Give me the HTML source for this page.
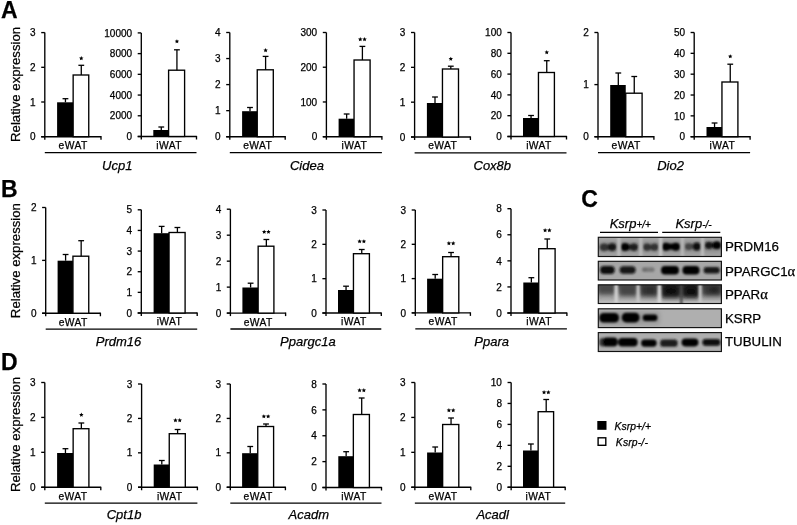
<!DOCTYPE html>
<html><head><meta charset="utf-8"><style>
html,body{margin:0;padding:0;background:#fff;}
body{width:797px;height:525px;overflow:hidden;}
svg{display:block;will-change:transform;filter:blur(0.3px);font-family:"Liberation Sans",sans-serif;fill:#000;}
</style></head><body>
<svg width="797" height="525" viewBox="0 0 797 525">
<g stroke="#000" fill="none" stroke-linecap="butt">
<g fill="#000">
<line x1="44.8" y1="32.6" x2="44.8" y2="139.7" stroke-width="1.35"/>
<line x1="41.2" y1="136.7" x2="44.8" y2="136.7" stroke-width="1.35"/>
<text stroke="#000" stroke-width="0.25" x="35.6" y="140.35" font-size="10" text-anchor="end">0</text>
<line x1="41.2" y1="102" x2="44.8" y2="102" stroke-width="1.35"/>
<text stroke="#000" stroke-width="0.25" x="35.6" y="105.65" font-size="10" text-anchor="end">1</text>
<line x1="41.2" y1="67.3" x2="44.8" y2="67.3" stroke-width="1.35"/>
<text stroke="#000" stroke-width="0.25" x="35.6" y="70.95" font-size="10" text-anchor="end">2</text>
<line x1="41.2" y1="32.6" x2="44.8" y2="32.6" stroke-width="1.35"/>
<text stroke="#000" stroke-width="0.25" x="35.6" y="36.25" font-size="10" text-anchor="end">3</text>
<line x1="41.2" y1="136.7" x2="101" y2="136.7" stroke-width="1.35"/>
<line x1="101" y1="136.1" x2="101" y2="139.7" stroke-width="1.35"/>
<rect x="57.1" y="102.3" width="16.05" height="34.4" fill="#000" stroke="none"/>
<rect x="73.15" y="75" width="15.6" height="61.7" fill="#fff" stroke-width="1.35"/>
<line x1="65.45" y1="102.3" x2="65.45" y2="98.7" stroke-width="1.3"/>
<line x1="62.55" y1="98.7" x2="68.35" y2="98.7" stroke-width="1.3"/>
<line x1="81.28" y1="75" x2="81.28" y2="65.3" stroke-width="1.3"/>
<line x1="78.38" y1="65.3" x2="84.18" y2="65.3" stroke-width="1.3"/>
<polygon points="81.28,56 81.92,57.41 83.46,57.59 82.32,58.64 82.63,60.16 81.28,59.4 79.92,60.16 80.23,58.64 79.09,57.59 80.63,57.41" stroke="none"/>
<text stroke="#000" stroke-width="0.25" x="73.1" y="149.1" font-size="10.3" text-anchor="middle" letter-spacing="0.4">eWAT</text>
<line x1="141.3" y1="32.9" x2="141.3" y2="139.5" stroke-width="1.35"/>
<line x1="137.7" y1="136.5" x2="141.3" y2="136.5" stroke-width="1.35"/>
<text stroke="#000" stroke-width="0.25" x="132.1" y="140.15" font-size="10" text-anchor="end">0</text>
<line x1="137.7" y1="115.78" x2="141.3" y2="115.78" stroke-width="1.35"/>
<text stroke="#000" stroke-width="0.25" x="132.1" y="119.43" font-size="10" text-anchor="end">2000</text>
<line x1="137.7" y1="95.06" x2="141.3" y2="95.06" stroke-width="1.35"/>
<text stroke="#000" stroke-width="0.25" x="132.1" y="98.71" font-size="10" text-anchor="end">4000</text>
<line x1="137.7" y1="74.34" x2="141.3" y2="74.34" stroke-width="1.35"/>
<text stroke="#000" stroke-width="0.25" x="132.1" y="77.99" font-size="10" text-anchor="end">6000</text>
<line x1="137.7" y1="53.62" x2="141.3" y2="53.62" stroke-width="1.35"/>
<text stroke="#000" stroke-width="0.25" x="132.1" y="57.27" font-size="10" text-anchor="end">8000</text>
<line x1="137.7" y1="32.9" x2="141.3" y2="32.9" stroke-width="1.35"/>
<text stroke="#000" stroke-width="0.25" x="132.1" y="36.55" font-size="10" text-anchor="end">10000</text>
<line x1="137.7" y1="136.5" x2="196.5" y2="136.5" stroke-width="1.35"/>
<line x1="196.5" y1="135.9" x2="196.5" y2="139.5" stroke-width="1.35"/>
<rect x="153.3" y="130" width="15.3" height="6.5" fill="#000" stroke="none"/>
<rect x="168.6" y="70.2" width="16" height="66.3" fill="#fff" stroke-width="1.35"/>
<line x1="161.28" y1="130" x2="161.28" y2="127" stroke-width="1.3"/>
<line x1="158.38" y1="127" x2="164.18" y2="127" stroke-width="1.3"/>
<line x1="176.93" y1="70.2" x2="176.93" y2="49.8" stroke-width="1.3"/>
<line x1="174.03" y1="49.8" x2="179.83" y2="49.8" stroke-width="1.3"/>
<polygon points="176.93,39.2 177.57,40.61 179.11,40.79 177.97,41.84 178.28,43.36 176.93,42.6 175.57,43.36 175.88,41.84 174.74,40.79 176.28,40.61" stroke="none"/>
<text stroke="#000" stroke-width="0.25" x="169.1" y="148.9" font-size="10.3" text-anchor="middle" letter-spacing="0.4">iWAT</text>
<line x1="229.8" y1="32.5" x2="229.8" y2="139.7" stroke-width="1.35"/>
<line x1="226.2" y1="136.7" x2="229.8" y2="136.7" stroke-width="1.35"/>
<text stroke="#000" stroke-width="0.25" x="220.6" y="140.35" font-size="10" text-anchor="end">0</text>
<line x1="226.2" y1="110.65" x2="229.8" y2="110.65" stroke-width="1.35"/>
<text stroke="#000" stroke-width="0.25" x="220.6" y="114.3" font-size="10" text-anchor="end">1</text>
<line x1="226.2" y1="84.6" x2="229.8" y2="84.6" stroke-width="1.35"/>
<text stroke="#000" stroke-width="0.25" x="220.6" y="88.25" font-size="10" text-anchor="end">2</text>
<line x1="226.2" y1="58.55" x2="229.8" y2="58.55" stroke-width="1.35"/>
<text stroke="#000" stroke-width="0.25" x="220.6" y="62.2" font-size="10" text-anchor="end">3</text>
<line x1="226.2" y1="32.5" x2="229.8" y2="32.5" stroke-width="1.35"/>
<text stroke="#000" stroke-width="0.25" x="220.6" y="36.15" font-size="10" text-anchor="end">4</text>
<line x1="226.2" y1="136.7" x2="285.2" y2="136.7" stroke-width="1.35"/>
<line x1="285.2" y1="136.1" x2="285.2" y2="139.7" stroke-width="1.35"/>
<rect x="242.1" y="111.2" width="15.15" height="25.5" fill="#000" stroke="none"/>
<rect x="257.25" y="69.8" width="16.05" height="66.9" fill="#fff" stroke-width="1.35"/>
<line x1="250" y1="111.2" x2="250" y2="107.5" stroke-width="1.3"/>
<line x1="247.1" y1="107.5" x2="252.9" y2="107.5" stroke-width="1.3"/>
<line x1="265.6" y1="69.8" x2="265.6" y2="56.4" stroke-width="1.3"/>
<line x1="262.7" y1="56.4" x2="268.5" y2="56.4" stroke-width="1.3"/>
<polygon points="265.6,48 266.25,49.41 267.79,49.59 266.65,50.64 266.95,52.16 265.6,51.4 264.25,52.16 264.55,50.64 263.41,49.59 264.95,49.41" stroke="none"/>
<text stroke="#000" stroke-width="0.25" x="257.7" y="149.1" font-size="10.3" text-anchor="middle" letter-spacing="0.4">eWAT</text>
<line x1="326.4" y1="32.5" x2="326.4" y2="139.7" stroke-width="1.35"/>
<line x1="322.8" y1="136.7" x2="326.4" y2="136.7" stroke-width="1.35"/>
<text stroke="#000" stroke-width="0.25" x="317.2" y="140.35" font-size="10" text-anchor="end">0</text>
<line x1="322.8" y1="101.97" x2="326.4" y2="101.97" stroke-width="1.35"/>
<text stroke="#000" stroke-width="0.25" x="317.2" y="105.62" font-size="10" text-anchor="end">100</text>
<line x1="322.8" y1="67.23" x2="326.4" y2="67.23" stroke-width="1.35"/>
<text stroke="#000" stroke-width="0.25" x="317.2" y="70.88" font-size="10" text-anchor="end">200</text>
<line x1="322.8" y1="32.5" x2="326.4" y2="32.5" stroke-width="1.35"/>
<text stroke="#000" stroke-width="0.25" x="317.2" y="36.15" font-size="10" text-anchor="end">300</text>
<line x1="322.8" y1="136.7" x2="381.9" y2="136.7" stroke-width="1.35"/>
<line x1="381.9" y1="136.1" x2="381.9" y2="139.7" stroke-width="1.35"/>
<rect x="338.6" y="118.7" width="15.45" height="18" fill="#000" stroke="none"/>
<rect x="354.05" y="60" width="16.05" height="76.7" fill="#fff" stroke-width="1.35"/>
<line x1="346.65" y1="118.7" x2="346.65" y2="114" stroke-width="1.3"/>
<line x1="343.75" y1="114" x2="349.55" y2="114" stroke-width="1.3"/>
<line x1="362.4" y1="60" x2="362.4" y2="46.4" stroke-width="1.3"/>
<line x1="359.5" y1="46.4" x2="365.3" y2="46.4" stroke-width="1.3"/>
<polygon points="360.25,37 360.9,38.41 362.44,38.59 361.3,39.64 361.6,41.16 360.25,40.4 358.9,41.16 359.2,39.64 358.06,38.59 359.6,38.41" stroke="none"/>
<polygon points="364.55,37 365.2,38.41 366.74,38.59 365.6,39.64 365.9,41.16 364.55,40.4 363.2,41.16 363.5,39.64 362.36,38.59 363.9,38.41" stroke="none"/>
<text stroke="#000" stroke-width="0.25" x="354.35" y="149.1" font-size="10.3" text-anchor="middle" letter-spacing="0.4">iWAT</text>
<line x1="414.6" y1="32.5" x2="414.6" y2="140" stroke-width="1.35"/>
<line x1="411" y1="137" x2="414.6" y2="137" stroke-width="1.35"/>
<text stroke="#000" stroke-width="0.25" x="405.4" y="140.65" font-size="10" text-anchor="end">0</text>
<line x1="411" y1="102.17" x2="414.6" y2="102.17" stroke-width="1.35"/>
<text stroke="#000" stroke-width="0.25" x="405.4" y="105.82" font-size="10" text-anchor="end">1</text>
<line x1="411" y1="67.33" x2="414.6" y2="67.33" stroke-width="1.35"/>
<text stroke="#000" stroke-width="0.25" x="405.4" y="70.98" font-size="10" text-anchor="end">2</text>
<line x1="411" y1="32.5" x2="414.6" y2="32.5" stroke-width="1.35"/>
<text stroke="#000" stroke-width="0.25" x="405.4" y="36.15" font-size="10" text-anchor="end">3</text>
<line x1="411" y1="137" x2="470.4" y2="137" stroke-width="1.35"/>
<line x1="470.4" y1="136.4" x2="470.4" y2="140" stroke-width="1.35"/>
<rect x="426.9" y="103" width="15.55" height="34" fill="#000" stroke="none"/>
<rect x="442.45" y="69" width="16.05" height="68" fill="#fff" stroke-width="1.35"/>
<line x1="435" y1="103" x2="435" y2="97" stroke-width="1.3"/>
<line x1="432.1" y1="97" x2="437.9" y2="97" stroke-width="1.3"/>
<line x1="450.8" y1="69" x2="450.8" y2="66.2" stroke-width="1.3"/>
<line x1="447.9" y1="66.2" x2="453.7" y2="66.2" stroke-width="1.3"/>
<polygon points="450.8,56.7 451.45,58.11 452.99,58.29 451.85,59.34 452.15,60.86 450.8,60.1 449.45,60.86 449.75,59.34 448.61,58.29 450.15,58.11" stroke="none"/>
<text stroke="#000" stroke-width="0.25" x="442.7" y="149.4" font-size="10.3" text-anchor="middle" letter-spacing="0.4">eWAT</text>
<line x1="511" y1="32.5" x2="511" y2="139.5" stroke-width="1.35"/>
<line x1="507.4" y1="136.5" x2="511" y2="136.5" stroke-width="1.35"/>
<text stroke="#000" stroke-width="0.25" x="501.8" y="140.15" font-size="10" text-anchor="end">0</text>
<line x1="507.4" y1="115.7" x2="511" y2="115.7" stroke-width="1.35"/>
<text stroke="#000" stroke-width="0.25" x="501.8" y="119.35" font-size="10" text-anchor="end">20</text>
<line x1="507.4" y1="94.9" x2="511" y2="94.9" stroke-width="1.35"/>
<text stroke="#000" stroke-width="0.25" x="501.8" y="98.55" font-size="10" text-anchor="end">40</text>
<line x1="507.4" y1="74.1" x2="511" y2="74.1" stroke-width="1.35"/>
<text stroke="#000" stroke-width="0.25" x="501.8" y="77.75" font-size="10" text-anchor="end">60</text>
<line x1="507.4" y1="53.3" x2="511" y2="53.3" stroke-width="1.35"/>
<text stroke="#000" stroke-width="0.25" x="501.8" y="56.95" font-size="10" text-anchor="end">80</text>
<line x1="507.4" y1="32.5" x2="511" y2="32.5" stroke-width="1.35"/>
<text stroke="#000" stroke-width="0.25" x="501.8" y="36.15" font-size="10" text-anchor="end">100</text>
<line x1="507.4" y1="136.5" x2="566.5" y2="136.5" stroke-width="1.35"/>
<line x1="566.5" y1="135.9" x2="566.5" y2="139.5" stroke-width="1.35"/>
<rect x="523" y="118" width="15.45" height="18.5" fill="#000" stroke="none"/>
<rect x="538.45" y="72.5" width="15.95" height="64" fill="#fff" stroke-width="1.35"/>
<line x1="531.05" y1="118" x2="531.05" y2="115.5" stroke-width="1.3"/>
<line x1="528.15" y1="115.5" x2="533.95" y2="115.5" stroke-width="1.3"/>
<line x1="546.75" y1="72.5" x2="546.75" y2="60.7" stroke-width="1.3"/>
<line x1="543.85" y1="60.7" x2="549.65" y2="60.7" stroke-width="1.3"/>
<polygon points="546.75,50 547.4,51.41 548.94,51.59 547.8,52.64 548.1,54.16 546.75,53.4 545.4,54.16 545.7,52.64 544.56,51.59 546.1,51.41" stroke="none"/>
<text stroke="#000" stroke-width="0.25" x="538.95" y="148.9" font-size="10.3" text-anchor="middle" letter-spacing="0.4">iWAT</text>
<line x1="598" y1="32.5" x2="598" y2="139.7" stroke-width="1.35"/>
<line x1="594.4" y1="136.7" x2="598" y2="136.7" stroke-width="1.35"/>
<text stroke="#000" stroke-width="0.25" x="588.8" y="140.35" font-size="10" text-anchor="end">0</text>
<line x1="594.4" y1="84.6" x2="598" y2="84.6" stroke-width="1.35"/>
<text stroke="#000" stroke-width="0.25" x="588.8" y="88.25" font-size="10" text-anchor="end">1</text>
<line x1="594.4" y1="32.5" x2="598" y2="32.5" stroke-width="1.35"/>
<text stroke="#000" stroke-width="0.25" x="588.8" y="36.15" font-size="10" text-anchor="end">2</text>
<line x1="594.4" y1="136.7" x2="653.9" y2="136.7" stroke-width="1.35"/>
<line x1="653.9" y1="136.1" x2="653.9" y2="139.7" stroke-width="1.35"/>
<rect x="610.2" y="85" width="15.55" height="51.7" fill="#000" stroke="none"/>
<rect x="625.75" y="93.2" width="16.35" height="43.5" fill="#fff" stroke-width="1.35"/>
<line x1="618.3" y1="85" x2="618.3" y2="73" stroke-width="1.3"/>
<line x1="615.4" y1="73" x2="621.2" y2="73" stroke-width="1.3"/>
<line x1="634.25" y1="93.2" x2="634.25" y2="76.5" stroke-width="1.3"/>
<line x1="631.35" y1="76.5" x2="637.15" y2="76.5" stroke-width="1.3"/>
<text stroke="#000" stroke-width="0.25" x="626.15" y="149.1" font-size="10.3" text-anchor="middle" letter-spacing="0.4">eWAT</text>
<line x1="694.2" y1="32.5" x2="694.2" y2="139.7" stroke-width="1.35"/>
<line x1="690.6" y1="136.7" x2="694.2" y2="136.7" stroke-width="1.35"/>
<text stroke="#000" stroke-width="0.25" x="685" y="140.35" font-size="10" text-anchor="end">0</text>
<line x1="690.6" y1="115.86" x2="694.2" y2="115.86" stroke-width="1.35"/>
<text stroke="#000" stroke-width="0.25" x="685" y="119.51" font-size="10" text-anchor="end">10</text>
<line x1="690.6" y1="95.02" x2="694.2" y2="95.02" stroke-width="1.35"/>
<text stroke="#000" stroke-width="0.25" x="685" y="98.67" font-size="10" text-anchor="end">20</text>
<line x1="690.6" y1="74.18" x2="694.2" y2="74.18" stroke-width="1.35"/>
<text stroke="#000" stroke-width="0.25" x="685" y="77.83" font-size="10" text-anchor="end">30</text>
<line x1="690.6" y1="53.34" x2="694.2" y2="53.34" stroke-width="1.35"/>
<text stroke="#000" stroke-width="0.25" x="685" y="56.99" font-size="10" text-anchor="end">40</text>
<line x1="690.6" y1="32.5" x2="694.2" y2="32.5" stroke-width="1.35"/>
<text stroke="#000" stroke-width="0.25" x="685" y="36.15" font-size="10" text-anchor="end">50</text>
<line x1="690.6" y1="136.7" x2="750.1" y2="136.7" stroke-width="1.35"/>
<line x1="750.1" y1="136.1" x2="750.1" y2="139.7" stroke-width="1.35"/>
<rect x="706.5" y="127" width="15.45" height="9.7" fill="#000" stroke="none"/>
<rect x="721.95" y="82" width="15.95" height="54.7" fill="#fff" stroke-width="1.35"/>
<line x1="714.55" y1="127" x2="714.55" y2="123" stroke-width="1.3"/>
<line x1="711.65" y1="123" x2="717.45" y2="123" stroke-width="1.3"/>
<line x1="730.25" y1="82" x2="730.25" y2="64.2" stroke-width="1.3"/>
<line x1="727.35" y1="64.2" x2="733.15" y2="64.2" stroke-width="1.3"/>
<polygon points="730.25,54.2 730.9,55.61 732.44,55.79 731.3,56.84 731.6,58.36 730.25,57.6 728.9,58.36 729.2,56.84 728.06,55.79 729.6,55.61" stroke="none"/>
<text stroke="#000" stroke-width="0.25" x="722.35" y="149.1" font-size="10.3" text-anchor="middle" letter-spacing="0.4">iWAT</text>
<line x1="45.7" y1="207.5" x2="45.7" y2="316.25" stroke-width="1.35"/>
<line x1="42.1" y1="313.25" x2="45.7" y2="313.25" stroke-width="1.35"/>
<text stroke="#000" stroke-width="0.25" x="36.5" y="316.9" font-size="10" text-anchor="end">0</text>
<line x1="42.1" y1="260.38" x2="45.7" y2="260.38" stroke-width="1.35"/>
<text stroke="#000" stroke-width="0.25" x="36.5" y="264.02" font-size="10" text-anchor="end">1</text>
<line x1="42.1" y1="207.5" x2="45.7" y2="207.5" stroke-width="1.35"/>
<text stroke="#000" stroke-width="0.25" x="36.5" y="211.15" font-size="10" text-anchor="end">2</text>
<line x1="42.1" y1="313.25" x2="100.4" y2="313.25" stroke-width="1.35"/>
<line x1="100.4" y1="312.65" x2="100.4" y2="316.25" stroke-width="1.35"/>
<rect x="57.6" y="260.7" width="15.35" height="52.55" fill="#000" stroke="none"/>
<rect x="72.95" y="256.2" width="15.8" height="57.05" fill="#fff" stroke-width="1.35"/>
<line x1="65.6" y1="260.7" x2="65.6" y2="254.5" stroke-width="1.3"/>
<line x1="62.7" y1="254.5" x2="68.5" y2="254.5" stroke-width="1.3"/>
<line x1="81.17" y1="256.2" x2="81.17" y2="240.7" stroke-width="1.3"/>
<line x1="78.27" y1="240.7" x2="84.08" y2="240.7" stroke-width="1.3"/>
<text stroke="#000" stroke-width="0.25" x="73.25" y="325.65" font-size="10.3" text-anchor="middle" letter-spacing="0.4">eWAT</text>
<line x1="141.3" y1="209.8" x2="141.3" y2="316" stroke-width="1.35"/>
<line x1="137.7" y1="313" x2="141.3" y2="313" stroke-width="1.35"/>
<text stroke="#000" stroke-width="0.25" x="132.1" y="316.65" font-size="10" text-anchor="end">0</text>
<line x1="137.7" y1="292.36" x2="141.3" y2="292.36" stroke-width="1.35"/>
<text stroke="#000" stroke-width="0.25" x="132.1" y="296.01" font-size="10" text-anchor="end">1</text>
<line x1="137.7" y1="271.72" x2="141.3" y2="271.72" stroke-width="1.35"/>
<text stroke="#000" stroke-width="0.25" x="132.1" y="275.37" font-size="10" text-anchor="end">2</text>
<line x1="137.7" y1="251.08" x2="141.3" y2="251.08" stroke-width="1.35"/>
<text stroke="#000" stroke-width="0.25" x="132.1" y="254.73" font-size="10" text-anchor="end">3</text>
<line x1="137.7" y1="230.44" x2="141.3" y2="230.44" stroke-width="1.35"/>
<text stroke="#000" stroke-width="0.25" x="132.1" y="234.09" font-size="10" text-anchor="end">4</text>
<line x1="137.7" y1="209.8" x2="141.3" y2="209.8" stroke-width="1.35"/>
<text stroke="#000" stroke-width="0.25" x="132.1" y="213.45" font-size="10" text-anchor="end">5</text>
<line x1="137.7" y1="313" x2="197.2" y2="313" stroke-width="1.35"/>
<line x1="197.2" y1="312.4" x2="197.2" y2="316" stroke-width="1.35"/>
<rect x="153.6" y="233.2" width="15.45" height="79.8" fill="#000" stroke="none"/>
<rect x="169.05" y="232.5" width="16.05" height="80.5" fill="#fff" stroke-width="1.35"/>
<line x1="161.65" y1="233.2" x2="161.65" y2="226.4" stroke-width="1.3"/>
<line x1="158.75" y1="226.4" x2="164.55" y2="226.4" stroke-width="1.3"/>
<line x1="177.4" y1="232.5" x2="177.4" y2="227.5" stroke-width="1.3"/>
<line x1="174.5" y1="227.5" x2="180.3" y2="227.5" stroke-width="1.3"/>
<text stroke="#000" stroke-width="0.25" x="169.45" y="325.4" font-size="10.3" text-anchor="middle" letter-spacing="0.4">iWAT</text>
<line x1="230.4" y1="209.2" x2="230.4" y2="316.1" stroke-width="1.35"/>
<line x1="226.8" y1="313.1" x2="230.4" y2="313.1" stroke-width="1.35"/>
<text stroke="#000" stroke-width="0.25" x="221.2" y="316.75" font-size="10" text-anchor="end">0</text>
<line x1="226.8" y1="287.12" x2="230.4" y2="287.12" stroke-width="1.35"/>
<text stroke="#000" stroke-width="0.25" x="221.2" y="290.77" font-size="10" text-anchor="end">1</text>
<line x1="226.8" y1="261.15" x2="230.4" y2="261.15" stroke-width="1.35"/>
<text stroke="#000" stroke-width="0.25" x="221.2" y="264.8" font-size="10" text-anchor="end">2</text>
<line x1="226.8" y1="235.18" x2="230.4" y2="235.18" stroke-width="1.35"/>
<text stroke="#000" stroke-width="0.25" x="221.2" y="238.83" font-size="10" text-anchor="end">3</text>
<line x1="226.8" y1="209.2" x2="230.4" y2="209.2" stroke-width="1.35"/>
<text stroke="#000" stroke-width="0.25" x="221.2" y="212.85" font-size="10" text-anchor="end">4</text>
<line x1="226.8" y1="313.1" x2="285.6" y2="313.1" stroke-width="1.35"/>
<line x1="285.6" y1="312.5" x2="285.6" y2="316.1" stroke-width="1.35"/>
<rect x="242.4" y="287.5" width="15.75" height="25.6" fill="#000" stroke="none"/>
<rect x="258.15" y="246.2" width="15.75" height="66.9" fill="#fff" stroke-width="1.35"/>
<line x1="250.6" y1="287.5" x2="250.6" y2="283.2" stroke-width="1.3"/>
<line x1="247.7" y1="283.2" x2="253.5" y2="283.2" stroke-width="1.3"/>
<line x1="266.35" y1="246.2" x2="266.35" y2="239.5" stroke-width="1.3"/>
<line x1="263.45" y1="239.5" x2="269.25" y2="239.5" stroke-width="1.3"/>
<polygon points="264.2,229.7 264.85,231.11 266.39,231.29 265.25,232.34 265.55,233.86 264.2,233.1 262.85,233.86 263.15,232.34 262.01,231.29 263.55,231.11" stroke="none"/>
<polygon points="268.5,229.7 269.15,231.11 270.69,231.29 269.55,232.34 269.85,233.86 268.5,233.1 267.15,233.86 267.45,232.34 266.31,231.29 267.85,231.11" stroke="none"/>
<text stroke="#000" stroke-width="0.25" x="258.2" y="325.5" font-size="10.3" text-anchor="middle" letter-spacing="0.4">eWAT</text>
<line x1="326" y1="210" x2="326" y2="316" stroke-width="1.35"/>
<line x1="322.4" y1="313" x2="326" y2="313" stroke-width="1.35"/>
<text stroke="#000" stroke-width="0.25" x="316.8" y="316.65" font-size="10" text-anchor="end">0</text>
<line x1="322.4" y1="278.67" x2="326" y2="278.67" stroke-width="1.35"/>
<text stroke="#000" stroke-width="0.25" x="316.8" y="282.32" font-size="10" text-anchor="end">1</text>
<line x1="322.4" y1="244.33" x2="326" y2="244.33" stroke-width="1.35"/>
<text stroke="#000" stroke-width="0.25" x="316.8" y="247.98" font-size="10" text-anchor="end">2</text>
<line x1="322.4" y1="210" x2="326" y2="210" stroke-width="1.35"/>
<text stroke="#000" stroke-width="0.25" x="316.8" y="213.65" font-size="10" text-anchor="end">3</text>
<line x1="322.4" y1="313" x2="381.3" y2="313" stroke-width="1.35"/>
<line x1="381.3" y1="312.4" x2="381.3" y2="316" stroke-width="1.35"/>
<rect x="338" y="290" width="15.45" height="23" fill="#000" stroke="none"/>
<rect x="353.45" y="253.7" width="15.95" height="59.3" fill="#fff" stroke-width="1.35"/>
<line x1="346.05" y1="290" x2="346.05" y2="286.2" stroke-width="1.3"/>
<line x1="343.15" y1="286.2" x2="348.95" y2="286.2" stroke-width="1.3"/>
<line x1="361.75" y1="253.7" x2="361.75" y2="249.5" stroke-width="1.3"/>
<line x1="358.85" y1="249.5" x2="364.65" y2="249.5" stroke-width="1.3"/>
<polygon points="359.6,239.2 360.25,240.61 361.79,240.79 360.65,241.84 360.95,243.36 359.6,242.6 358.25,243.36 358.55,241.84 357.41,240.79 358.95,240.61" stroke="none"/>
<polygon points="363.9,239.2 364.55,240.61 366.09,240.79 364.95,241.84 365.25,243.36 363.9,242.6 362.55,243.36 362.85,241.84 361.71,240.79 363.25,240.61" stroke="none"/>
<text stroke="#000" stroke-width="0.25" x="353.85" y="325.4" font-size="10.3" text-anchor="middle" letter-spacing="0.4">iWAT</text>
<line x1="415.3" y1="210" x2="415.3" y2="315.9" stroke-width="1.35"/>
<line x1="411.7" y1="312.9" x2="415.3" y2="312.9" stroke-width="1.35"/>
<text stroke="#000" stroke-width="0.25" x="406.1" y="316.55" font-size="10" text-anchor="end">0</text>
<line x1="411.7" y1="278.6" x2="415.3" y2="278.6" stroke-width="1.35"/>
<text stroke="#000" stroke-width="0.25" x="406.1" y="282.25" font-size="10" text-anchor="end">1</text>
<line x1="411.7" y1="244.3" x2="415.3" y2="244.3" stroke-width="1.35"/>
<text stroke="#000" stroke-width="0.25" x="406.1" y="247.95" font-size="10" text-anchor="end">2</text>
<line x1="411.7" y1="210" x2="415.3" y2="210" stroke-width="1.35"/>
<text stroke="#000" stroke-width="0.25" x="406.1" y="213.65" font-size="10" text-anchor="end">3</text>
<line x1="411.7" y1="312.9" x2="470.4" y2="312.9" stroke-width="1.35"/>
<line x1="470.4" y1="312.3" x2="470.4" y2="315.9" stroke-width="1.35"/>
<rect x="427.1" y="278.7" width="15.55" height="34.2" fill="#000" stroke="none"/>
<rect x="442.65" y="256.7" width="16.15" height="56.2" fill="#fff" stroke-width="1.35"/>
<line x1="435.2" y1="278.7" x2="435.2" y2="274.5" stroke-width="1.3"/>
<line x1="432.3" y1="274.5" x2="438.1" y2="274.5" stroke-width="1.3"/>
<line x1="451.05" y1="256.7" x2="451.05" y2="252.5" stroke-width="1.3"/>
<line x1="448.15" y1="252.5" x2="453.95" y2="252.5" stroke-width="1.3"/>
<polygon points="448.9,241 449.55,242.41 451.09,242.59 449.95,243.64 450.25,245.16 448.9,244.4 447.55,245.16 447.85,243.64 446.71,242.59 448.25,242.41" stroke="none"/>
<polygon points="453.2,241 453.85,242.41 455.39,242.59 454.25,243.64 454.55,245.16 453.2,244.4 451.85,245.16 452.15,243.64 451.01,242.59 452.55,242.41" stroke="none"/>
<text stroke="#000" stroke-width="0.25" x="443.05" y="325.3" font-size="10.3" text-anchor="middle" letter-spacing="0.4">eWAT</text>
<line x1="511" y1="208.7" x2="511" y2="316" stroke-width="1.35"/>
<line x1="507.4" y1="313" x2="511" y2="313" stroke-width="1.35"/>
<text stroke="#000" stroke-width="0.25" x="501.8" y="316.65" font-size="10" text-anchor="end">0</text>
<line x1="507.4" y1="286.93" x2="511" y2="286.93" stroke-width="1.35"/>
<text stroke="#000" stroke-width="0.25" x="501.8" y="290.57" font-size="10" text-anchor="end">2</text>
<line x1="507.4" y1="260.85" x2="511" y2="260.85" stroke-width="1.35"/>
<text stroke="#000" stroke-width="0.25" x="501.8" y="264.5" font-size="10" text-anchor="end">4</text>
<line x1="507.4" y1="234.77" x2="511" y2="234.77" stroke-width="1.35"/>
<text stroke="#000" stroke-width="0.25" x="501.8" y="238.42" font-size="10" text-anchor="end">6</text>
<line x1="507.4" y1="208.7" x2="511" y2="208.7" stroke-width="1.35"/>
<text stroke="#000" stroke-width="0.25" x="501.8" y="212.35" font-size="10" text-anchor="end">8</text>
<line x1="507.4" y1="313" x2="566.9" y2="313" stroke-width="1.35"/>
<line x1="566.9" y1="312.4" x2="566.9" y2="316" stroke-width="1.35"/>
<rect x="523.3" y="282.5" width="15.45" height="30.5" fill="#000" stroke="none"/>
<rect x="538.75" y="248.7" width="16.35" height="64.3" fill="#fff" stroke-width="1.35"/>
<line x1="531.35" y1="282.5" x2="531.35" y2="277.7" stroke-width="1.3"/>
<line x1="528.45" y1="277.7" x2="534.25" y2="277.7" stroke-width="1.3"/>
<line x1="547.25" y1="248.7" x2="547.25" y2="239" stroke-width="1.3"/>
<line x1="544.35" y1="239" x2="550.15" y2="239" stroke-width="1.3"/>
<polygon points="545.1,228 545.75,229.41 547.29,229.59 546.15,230.64 546.45,232.16 545.1,231.4 543.75,232.16 544.05,230.64 542.91,229.59 544.45,229.41" stroke="none"/>
<polygon points="549.4,228 550.05,229.41 551.59,229.59 550.45,230.64 550.75,232.16 549.4,231.4 548.05,232.16 548.35,230.64 547.21,229.59 548.75,229.41" stroke="none"/>
<text stroke="#000" stroke-width="0.25" x="539.15" y="325.4" font-size="10.3" text-anchor="middle" letter-spacing="0.4">iWAT</text>
<line x1="44.8" y1="382.5" x2="44.8" y2="490.25" stroke-width="1.35"/>
<line x1="41.2" y1="487.25" x2="44.8" y2="487.25" stroke-width="1.35"/>
<text stroke="#000" stroke-width="0.25" x="35.6" y="490.9" font-size="10" text-anchor="end">0</text>
<line x1="41.2" y1="452.33" x2="44.8" y2="452.33" stroke-width="1.35"/>
<text stroke="#000" stroke-width="0.25" x="35.6" y="455.98" font-size="10" text-anchor="end">1</text>
<line x1="41.2" y1="417.42" x2="44.8" y2="417.42" stroke-width="1.35"/>
<text stroke="#000" stroke-width="0.25" x="35.6" y="421.07" font-size="10" text-anchor="end">2</text>
<line x1="41.2" y1="382.5" x2="44.8" y2="382.5" stroke-width="1.35"/>
<text stroke="#000" stroke-width="0.25" x="35.6" y="386.15" font-size="10" text-anchor="end">3</text>
<line x1="41.2" y1="487.25" x2="100.8" y2="487.25" stroke-width="1.35"/>
<line x1="100.8" y1="486.65" x2="100.8" y2="490.25" stroke-width="1.35"/>
<rect x="57.1" y="453" width="16.05" height="34.25" fill="#000" stroke="none"/>
<rect x="73.15" y="428.7" width="15.75" height="58.55" fill="#fff" stroke-width="1.35"/>
<line x1="65.45" y1="453" x2="65.45" y2="448.7" stroke-width="1.3"/>
<line x1="62.55" y1="448.7" x2="68.35" y2="448.7" stroke-width="1.3"/>
<line x1="81.35" y1="428.7" x2="81.35" y2="423" stroke-width="1.3"/>
<line x1="78.45" y1="423" x2="84.25" y2="423" stroke-width="1.3"/>
<polygon points="81.35,412.5 82,413.91 83.54,414.09 82.4,415.14 82.7,416.66 81.35,415.9 80,416.66 80.3,415.14 79.16,414.09 80.7,413.91" stroke="none"/>
<text stroke="#000" stroke-width="0.25" x="73" y="499.65" font-size="10.3" text-anchor="middle" letter-spacing="0.4">eWAT</text>
<line x1="141.6" y1="384" x2="141.6" y2="490.25" stroke-width="1.35"/>
<line x1="138" y1="487.25" x2="141.6" y2="487.25" stroke-width="1.35"/>
<text stroke="#000" stroke-width="0.25" x="132.4" y="490.9" font-size="10" text-anchor="end">0</text>
<line x1="138" y1="452.83" x2="141.6" y2="452.83" stroke-width="1.35"/>
<text stroke="#000" stroke-width="0.25" x="132.4" y="456.48" font-size="10" text-anchor="end">1</text>
<line x1="138" y1="418.42" x2="141.6" y2="418.42" stroke-width="1.35"/>
<text stroke="#000" stroke-width="0.25" x="132.4" y="422.07" font-size="10" text-anchor="end">2</text>
<line x1="138" y1="384" x2="141.6" y2="384" stroke-width="1.35"/>
<text stroke="#000" stroke-width="0.25" x="132.4" y="387.65" font-size="10" text-anchor="end">3</text>
<line x1="138" y1="487.25" x2="197.4" y2="487.25" stroke-width="1.35"/>
<line x1="197.4" y1="486.65" x2="197.4" y2="490.25" stroke-width="1.35"/>
<rect x="153.7" y="464.5" width="15.55" height="22.75" fill="#000" stroke="none"/>
<rect x="169.25" y="433.7" width="16.05" height="53.55" fill="#fff" stroke-width="1.35"/>
<line x1="161.8" y1="464.5" x2="161.8" y2="460.5" stroke-width="1.3"/>
<line x1="158.9" y1="460.5" x2="164.7" y2="460.5" stroke-width="1.3"/>
<line x1="177.6" y1="433.7" x2="177.6" y2="429.5" stroke-width="1.3"/>
<line x1="174.7" y1="429.5" x2="180.5" y2="429.5" stroke-width="1.3"/>
<polygon points="175.45,418 176.1,419.41 177.64,419.59 176.5,420.64 176.8,422.16 175.45,421.4 174.1,422.16 174.4,420.64 173.26,419.59 174.8,419.41" stroke="none"/>
<polygon points="179.75,418 180.4,419.41 181.94,419.59 180.8,420.64 181.1,422.16 179.75,421.4 178.4,422.16 178.7,420.64 177.56,419.59 179.1,419.41" stroke="none"/>
<text stroke="#000" stroke-width="0.25" x="169.7" y="499.65" font-size="10.3" text-anchor="middle" letter-spacing="0.4">iWAT</text>
<line x1="230.3" y1="384" x2="230.3" y2="490.25" stroke-width="1.35"/>
<line x1="226.7" y1="487.25" x2="230.3" y2="487.25" stroke-width="1.35"/>
<text stroke="#000" stroke-width="0.25" x="221.1" y="490.9" font-size="10" text-anchor="end">0</text>
<line x1="226.7" y1="452.83" x2="230.3" y2="452.83" stroke-width="1.35"/>
<text stroke="#000" stroke-width="0.25" x="221.1" y="456.48" font-size="10" text-anchor="end">1</text>
<line x1="226.7" y1="418.42" x2="230.3" y2="418.42" stroke-width="1.35"/>
<text stroke="#000" stroke-width="0.25" x="221.1" y="422.07" font-size="10" text-anchor="end">2</text>
<line x1="226.7" y1="384" x2="230.3" y2="384" stroke-width="1.35"/>
<text stroke="#000" stroke-width="0.25" x="221.1" y="387.65" font-size="10" text-anchor="end">3</text>
<line x1="226.7" y1="487.25" x2="285.4" y2="487.25" stroke-width="1.35"/>
<line x1="285.4" y1="486.65" x2="285.4" y2="490.25" stroke-width="1.35"/>
<rect x="242.1" y="453.2" width="15.65" height="34.05" fill="#000" stroke="none"/>
<rect x="257.75" y="426.5" width="15.85" height="60.75" fill="#fff" stroke-width="1.35"/>
<line x1="250.25" y1="453.2" x2="250.25" y2="446.5" stroke-width="1.3"/>
<line x1="247.35" y1="446.5" x2="253.15" y2="446.5" stroke-width="1.3"/>
<line x1="266" y1="426.5" x2="266" y2="424" stroke-width="1.3"/>
<line x1="263.1" y1="424" x2="268.9" y2="424" stroke-width="1.3"/>
<polygon points="263.85,414.2 264.5,415.61 266.04,415.79 264.9,416.84 265.2,418.36 263.85,417.6 262.5,418.36 262.8,416.84 261.66,415.79 263.2,415.61" stroke="none"/>
<polygon points="268.15,414.2 268.8,415.61 270.34,415.79 269.2,416.84 269.5,418.36 268.15,417.6 266.8,418.36 267.1,416.84 265.96,415.79 267.5,415.61" stroke="none"/>
<text stroke="#000" stroke-width="0.25" x="258.05" y="499.65" font-size="10.3" text-anchor="middle" letter-spacing="0.4">eWAT</text>
<line x1="326" y1="384" x2="326" y2="490.5" stroke-width="1.35"/>
<line x1="322.4" y1="487.5" x2="326" y2="487.5" stroke-width="1.35"/>
<text stroke="#000" stroke-width="0.25" x="316.8" y="491.15" font-size="10" text-anchor="end">0</text>
<line x1="322.4" y1="461.62" x2="326" y2="461.62" stroke-width="1.35"/>
<text stroke="#000" stroke-width="0.25" x="316.8" y="465.27" font-size="10" text-anchor="end">2</text>
<line x1="322.4" y1="435.75" x2="326" y2="435.75" stroke-width="1.35"/>
<text stroke="#000" stroke-width="0.25" x="316.8" y="439.4" font-size="10" text-anchor="end">4</text>
<line x1="322.4" y1="409.88" x2="326" y2="409.88" stroke-width="1.35"/>
<text stroke="#000" stroke-width="0.25" x="316.8" y="413.52" font-size="10" text-anchor="end">6</text>
<line x1="322.4" y1="384" x2="326" y2="384" stroke-width="1.35"/>
<text stroke="#000" stroke-width="0.25" x="316.8" y="387.65" font-size="10" text-anchor="end">8</text>
<line x1="322.4" y1="487.5" x2="381.5" y2="487.5" stroke-width="1.35"/>
<line x1="381.5" y1="486.9" x2="381.5" y2="490.5" stroke-width="1.35"/>
<rect x="338.3" y="456.2" width="15.05" height="31.3" fill="#000" stroke="none"/>
<rect x="353.35" y="414.5" width="16.05" height="73" fill="#fff" stroke-width="1.35"/>
<line x1="346.15" y1="456.2" x2="346.15" y2="451.7" stroke-width="1.3"/>
<line x1="343.25" y1="451.7" x2="349.05" y2="451.7" stroke-width="1.3"/>
<line x1="361.7" y1="414.5" x2="361.7" y2="398" stroke-width="1.3"/>
<line x1="358.8" y1="398" x2="364.6" y2="398" stroke-width="1.3"/>
<polygon points="359.55,388 360.2,389.41 361.74,389.59 360.6,390.64 360.9,392.16 359.55,391.4 358.2,392.16 358.5,390.64 357.36,389.59 358.9,389.41" stroke="none"/>
<polygon points="363.85,388 364.5,389.41 366.04,389.59 364.9,390.64 365.2,392.16 363.85,391.4 362.5,392.16 362.8,390.64 361.66,389.59 363.2,389.41" stroke="none"/>
<text stroke="#000" stroke-width="0.25" x="353.95" y="499.9" font-size="10.3" text-anchor="middle" letter-spacing="0.4">iWAT</text>
<line x1="414.85" y1="382.5" x2="414.85" y2="490.25" stroke-width="1.35"/>
<line x1="411.25" y1="487.25" x2="414.85" y2="487.25" stroke-width="1.35"/>
<text stroke="#000" stroke-width="0.25" x="405.65" y="490.9" font-size="10" text-anchor="end">0</text>
<line x1="411.25" y1="452.33" x2="414.85" y2="452.33" stroke-width="1.35"/>
<text stroke="#000" stroke-width="0.25" x="405.65" y="455.98" font-size="10" text-anchor="end">1</text>
<line x1="411.25" y1="417.42" x2="414.85" y2="417.42" stroke-width="1.35"/>
<text stroke="#000" stroke-width="0.25" x="405.65" y="421.07" font-size="10" text-anchor="end">2</text>
<line x1="411.25" y1="382.5" x2="414.85" y2="382.5" stroke-width="1.35"/>
<text stroke="#000" stroke-width="0.25" x="405.65" y="386.15" font-size="10" text-anchor="end">3</text>
<line x1="411.25" y1="487.25" x2="470.8" y2="487.25" stroke-width="1.35"/>
<line x1="470.8" y1="486.65" x2="470.8" y2="490.25" stroke-width="1.35"/>
<rect x="427.1" y="452.5" width="15.55" height="34.75" fill="#000" stroke="none"/>
<rect x="442.65" y="424.5" width="16.15" height="62.75" fill="#fff" stroke-width="1.35"/>
<line x1="435.2" y1="452.5" x2="435.2" y2="447" stroke-width="1.3"/>
<line x1="432.3" y1="447" x2="438.1" y2="447" stroke-width="1.3"/>
<line x1="451.05" y1="424.5" x2="451.05" y2="418" stroke-width="1.3"/>
<line x1="448.15" y1="418" x2="453.95" y2="418" stroke-width="1.3"/>
<polygon points="448.9,408 449.55,409.41 451.09,409.59 449.95,410.64 450.25,412.16 448.9,411.4 447.55,412.16 447.85,410.64 446.71,409.59 448.25,409.41" stroke="none"/>
<polygon points="453.2,408 453.85,409.41 455.39,409.59 454.25,410.64 454.55,412.16 453.2,411.4 451.85,412.16 452.15,410.64 451.01,409.59 452.55,409.41" stroke="none"/>
<text stroke="#000" stroke-width="0.25" x="443.03" y="499.65" font-size="10.3" text-anchor="middle" letter-spacing="0.4">eWAT</text>
<line x1="511.15" y1="382.5" x2="511.15" y2="490.25" stroke-width="1.35"/>
<line x1="507.55" y1="487.25" x2="511.15" y2="487.25" stroke-width="1.35"/>
<text stroke="#000" stroke-width="0.25" x="501.95" y="490.9" font-size="10" text-anchor="end">0</text>
<line x1="507.55" y1="466.3" x2="511.15" y2="466.3" stroke-width="1.35"/>
<text stroke="#000" stroke-width="0.25" x="501.95" y="469.95" font-size="10" text-anchor="end">2</text>
<line x1="507.55" y1="445.35" x2="511.15" y2="445.35" stroke-width="1.35"/>
<text stroke="#000" stroke-width="0.25" x="501.95" y="449" font-size="10" text-anchor="end">4</text>
<line x1="507.55" y1="424.4" x2="511.15" y2="424.4" stroke-width="1.35"/>
<text stroke="#000" stroke-width="0.25" x="501.95" y="428.05" font-size="10" text-anchor="end">6</text>
<line x1="507.55" y1="403.45" x2="511.15" y2="403.45" stroke-width="1.35"/>
<text stroke="#000" stroke-width="0.25" x="501.95" y="407.1" font-size="10" text-anchor="end">8</text>
<line x1="507.55" y1="382.5" x2="511.15" y2="382.5" stroke-width="1.35"/>
<text stroke="#000" stroke-width="0.25" x="501.95" y="386.15" font-size="10" text-anchor="end">10</text>
<line x1="507.55" y1="487.25" x2="565.2" y2="487.25" stroke-width="1.35"/>
<line x1="565.2" y1="486.65" x2="565.2" y2="490.25" stroke-width="1.35"/>
<rect x="523" y="450.5" width="15.15" height="36.75" fill="#000" stroke="none"/>
<rect x="538.15" y="411.7" width="15.45" height="75.55" fill="#fff" stroke-width="1.35"/>
<line x1="530.9" y1="450.5" x2="530.9" y2="444" stroke-width="1.3"/>
<line x1="528" y1="444" x2="533.8" y2="444" stroke-width="1.3"/>
<line x1="546.2" y1="411.7" x2="546.2" y2="399.5" stroke-width="1.3"/>
<line x1="543.3" y1="399.5" x2="549.1" y2="399.5" stroke-width="1.3"/>
<polygon points="544.05,390 544.7,391.41 546.24,391.59 545.1,392.64 545.4,394.16 544.05,393.4 542.7,394.16 543,392.64 541.86,391.59 543.4,391.41" stroke="none"/>
<polygon points="548.35,390 549,391.41 550.54,391.59 549.4,392.64 549.7,394.16 548.35,393.4 547,394.16 547.3,392.64 546.16,391.59 547.7,391.41" stroke="none"/>
<text stroke="#000" stroke-width="0.25" x="538.38" y="499.65" font-size="10.3" text-anchor="middle" letter-spacing="0.4">iWAT</text>
<line x1="44.8" y1="152.6" x2="196.5" y2="152.6" stroke-width="1.35"/>
<text stroke="#000" stroke-width="0.25" x="117.2" y="170.1" font-size="13" text-anchor="middle" font-style="italic">Ucp1</text>
<line x1="229.8" y1="152.6" x2="381.9" y2="152.6" stroke-width="1.35"/>
<text stroke="#000" stroke-width="0.25" x="306.9" y="170" font-size="13" text-anchor="middle" font-style="italic">Cidea</text>
<line x1="414.6" y1="152.9" x2="566.5" y2="152.9" stroke-width="1.35"/>
<text stroke="#000" stroke-width="0.25" x="492.3" y="170" font-size="13" text-anchor="middle" font-style="italic">Cox8b</text>
<line x1="598" y1="152.6" x2="750.1" y2="152.6" stroke-width="1.35"/>
<text stroke="#000" stroke-width="0.25" x="670.5" y="170" font-size="13" text-anchor="middle" font-style="italic">Dio2</text>
<line x1="45.7" y1="329.15" x2="197.2" y2="329.15" stroke-width="1.35"/>
<text stroke="#000" stroke-width="0.25" x="118.5" y="345.7" font-size="13" text-anchor="middle" font-style="italic">Prdm16</text>
<line x1="230.4" y1="329" x2="381.3" y2="329" stroke-width="1.35"/>
<text stroke="#000" stroke-width="0.25" x="307.9" y="345.7" font-size="13" text-anchor="middle" font-style="italic">Ppargc1a</text>
<line x1="415.3" y1="328.8" x2="566.9" y2="328.8" stroke-width="1.35"/>
<text stroke="#000" stroke-width="0.25" x="491.7" y="345.7" font-size="13" text-anchor="middle" font-style="italic">Ppara</text>
<line x1="44.8" y1="503.15" x2="197.4" y2="503.15" stroke-width="1.35"/>
<text stroke="#000" stroke-width="0.25" x="124.1" y="519.4" font-size="13" text-anchor="middle" font-style="italic">Cpt1b</text>
<line x1="230.3" y1="503.15" x2="381.5" y2="503.15" stroke-width="1.35"/>
<text stroke="#000" stroke-width="0.25" x="308.8" y="519.2" font-size="13" text-anchor="middle" font-style="italic">Acadm</text>
<line x1="414.85" y1="503.15" x2="565.2" y2="503.15" stroke-width="1.35"/>
<text stroke="#000" stroke-width="0.25" x="492.7" y="519.2" font-size="13" text-anchor="middle" font-style="italic">Acadl</text>
<text stroke="#000" stroke-width="0.25" transform="translate(20.2 84.4) rotate(-90)" font-size="13.2" text-anchor="middle">Relative expression</text>
<text stroke="#000" stroke-width="0.25" transform="translate(20.2 260.6) rotate(-90)" font-size="13.2" text-anchor="middle">Relative expression</text>
<text stroke="#000" stroke-width="0.25" transform="translate(20.2 434.5) rotate(-90)" font-size="13.2" text-anchor="middle">Relative expression</text>
<text stroke="#000" stroke-width="0.25" x="1" y="17.6" font-size="23" font-weight="bold">A</text>
<text stroke="#000" stroke-width="0.25" x="0.9" y="197.3" font-size="23" font-weight="bold">B</text>
<text stroke="#000" stroke-width="0.25" x="581.2" y="206.6" font-size="23" font-weight="bold">C</text>
<text stroke="#000" stroke-width="0.25" x="0.9" y="369.6" font-size="23" font-weight="bold">D</text>
</g>
</g>
<g stroke="#000" fill="#000">
<defs><filter id="bl" x="-20%" y="-60%" width="140%" height="220%"><feGaussianBlur stdDeviation="1.25"/></filter><filter id="bl2" x="-100%" y="-20%" width="300%" height="140%"><feGaussianBlur stdDeviation="1.1"/></filter><filter id="bl3" x="-20%" y="-50%" width="140%" height="200%"><feGaussianBlur stdDeviation="2"/></filter><linearGradient id="g3" x1="0" y1="0" x2="0" y2="1"><stop offset="0" stop-color="#2a2a2a" stop-opacity="0.85"/><stop offset="0.15" stop-color="#444" stop-opacity="0.6"/><stop offset="0.6" stop-color="#888" stop-opacity="0.25"/><stop offset="1" stop-color="#e0e0e0" stop-opacity="0.6"/></linearGradient>
<clipPath id="cp0"><rect x="598.3" y="237.3" width="123.1" height="19.2"/></clipPath>
<clipPath id="cp1"><rect x="598.3" y="261.3" width="123.1" height="18.7"/></clipPath>
<clipPath id="cp2"><rect x="598.3" y="284.8" width="123.1" height="18.7"/></clipPath>
<clipPath id="cp3"><rect x="598.3" y="308.8" width="123.1" height="18.8"/></clipPath>
<clipPath id="cp4"><rect x="598.3" y="332.6" width="123.1" height="18.9"/></clipPath>
</defs>
<g clip-path="url(#cp0)" stroke="none">
<rect x="598.3" y="237.3" width="123.1" height="19.2" fill="#a3a3a3"/>
<g filter="url(#bl3)"><rect x="599" y="242.5" width="122" height="9" rx="2.5" fill="#858585"/></g>
<g filter="url(#bl)"><rect x="600.85" y="244.5" width="14.8" height="5.4" rx="2.7" fill="#2c2c2c"/><ellipse cx="604" cy="247.2" rx="4.15" ry="3.7" fill="#303030"/><ellipse cx="612.2" cy="247.1" rx="4.15" ry="3.8" fill="#141414"/><rect x="621.65" y="244.5" width="15.8" height="5.3" rx="2.7" fill="#222"/><ellipse cx="625" cy="247.1" rx="4.15" ry="4" fill="#000"/><ellipse cx="634" cy="247.1" rx="3.85" ry="3.7" fill="#1a1a1a"/><rect x="643.65" y="244.7" width="13.8" height="5" rx="2.5" fill="#404040"/><ellipse cx="647" cy="247.1" rx="3.85" ry="3.6" fill="#333"/><ellipse cx="654.5" cy="247.1" rx="3.75" ry="3.6" fill="#333"/><rect x="662.65" y="243.8" width="16.8" height="5.8" rx="2.8" fill="#050505"/><ellipse cx="666" cy="246.7" rx="4.15" ry="4" fill="#000"/><ellipse cx="675.8" cy="246.7" rx="4.15" ry="4" fill="#000"/><rect x="685.15" y="244" width="14.8" height="5.1" rx="2.5" fill="#454545"/><ellipse cx="688.6" cy="246.6" rx="3.55" ry="3.4" fill="#444"/><ellipse cx="696.8" cy="246.5" rx="3.95" ry="3.9" fill="#0c0c0c"/><rect x="705.15" y="242.7" width="15.3" height="5.3" rx="2.6" fill="#1c1c1c"/><ellipse cx="708.8" cy="245.3" rx="3.95" ry="3.6" fill="#181818"/><ellipse cx="716.8" cy="245.2" rx="4.15" ry="3.9" fill="#000"/></g>
<g filter="url(#bl2)"><rect x="617.3" y="234.3" width="3.2" height="25.2" fill="#c0c0c0"/><rect x="639.2" y="234.3" width="3.2" height="25.2" fill="#bcbcbc"/><rect x="659" y="234.3" width="3.2" height="25.2" fill="#c6c6c6"/><rect x="680.9" y="234.3" width="3" height="25.2" fill="#b8b8b8"/><rect x="701" y="234.3" width="3" height="25.2" fill="#bebebe"/></g>
</g>
<rect x="598.3" y="237.3" width="123.1" height="19.2" fill="none" stroke="#111" stroke-width="1.15"/>
<g clip-path="url(#cp1)" stroke="none">
<rect x="598.3" y="261.3" width="123.1" height="18.7" fill="#a7a7a7"/>
<g filter="url(#bl)"><rect x="600.12" y="266.1" width="14.56" height="7.8" rx="3.6" fill="#0c0c0c"/><rect x="619.62" y="266.2" width="16.06" height="7.5" rx="3.6" fill="#141414"/><rect x="641.82" y="267.3" width="12.86" height="4.7" rx="2.3" fill="#7c7c7c"/><ellipse cx="645" cy="269.6" rx="2.6" ry="1.9" fill="#6e6e6e"/><ellipse cx="651.5" cy="269.6" rx="2.5" ry="1.9" fill="#767676"/><rect x="661.02" y="266" width="17.96" height="8.6" rx="4" fill="#000"/><rect x="682.42" y="266" width="17.16" height="8.6" rx="4" fill="#000"/><rect x="703.62" y="267.1" width="16.16" height="6.3" rx="3" fill="#141414"/></g>
</g>
<rect x="598.3" y="261.3" width="123.1" height="18.7" fill="none" stroke="#111" stroke-width="1.15"/>
<g clip-path="url(#cp2)" stroke="none">
<rect x="598.3" y="284.8" width="123.1" height="18.7" fill="#a8a8a8"/>
<rect x="598.3" y="284.8" width="123.1" height="18.7" fill="url(#g3)"/>
<g filter="url(#bl3)"><rect x="598" y="284" width="17" height="10.5" rx="2" fill="#4a4a4a"/><rect x="619" y="284" width="18.5" height="12" rx="2" fill="#444"/><rect x="640" y="284" width="18.5" height="12.5" rx="2" fill="#363636"/><ellipse cx="650" cy="290" rx="5" ry="3" fill="#2a2a2a"/><rect x="661" y="282" width="19.5" height="16" rx="2.5" fill="#1c1c1c"/><rect x="681.5" y="282" width="19" height="16" rx="2.5" fill="#1a1a1a"/><ellipse cx="671" cy="291" rx="7" ry="4" fill="#111"/><ellipse cx="691" cy="291.5" rx="7" ry="4" fill="#111"/><rect x="702.5" y="283" width="19.5" height="13" rx="2" fill="#383838"/><ellipse cx="714" cy="290" rx="5" ry="3.5" fill="#222"/></g>
<g filter="url(#bl2)"><rect x="614.5" y="281.8" width="3.4" height="24.7" fill="#d2d2d2"/><rect x="636.5" y="281.8" width="3.2" height="24.7" fill="#c8c8c8"/><rect x="657.6" y="281.8" width="3.6" height="24.7" fill="#d8d8d8"/><rect x="680.1" y="281.8" width="2.4" height="24.7" fill="#4a4a4a"/><rect x="698.5" y="281.8" width="3.4" height="24.7" fill="#c8c8c8"/></g>
</g>
<rect x="598.3" y="284.8" width="123.1" height="18.7" fill="none" stroke="#111" stroke-width="1.15"/>
<g clip-path="url(#cp3)" stroke="none">
<rect x="598.3" y="308.8" width="123.1" height="18.8" fill="#afafaf"/>
<g filter="url(#bl3)"><rect x="599" y="311.5" width="61" height="13" rx="3" fill="#999"/></g>
<g filter="url(#bl)"><rect x="599.28" y="312.9" width="19.64" height="9.7" rx="4.4" fill="#000"/><rect x="621.78" y="312.7" width="17.74" height="9.7" rx="4.4" fill="#000"/><rect x="642.68" y="314.6" width="14.74" height="6.4" rx="3" fill="#000"/></g>
</g>
<rect x="598.3" y="308.8" width="123.1" height="18.8" fill="none" stroke="#111" stroke-width="1.15"/>
<g clip-path="url(#cp4)" stroke="none">
<rect x="598.3" y="332.6" width="123.1" height="18.9" fill="#aeaeae"/>
<g filter="url(#bl)"><rect x="599.32" y="338" width="7.86" height="8.4" rx="3.4" fill="#333"/><rect x="602.82" y="337.6" width="14.86" height="8.8" rx="3.9" fill="#000"/><rect x="618.12" y="338" width="19.56" height="8.4" rx="3.9" fill="#000"/><rect x="641.12" y="339.4" width="15.56" height="7.3" rx="3.4" fill="#000"/><rect x="660.12" y="339.4" width="17.56" height="7.4" rx="3.4" fill="#1e1e1e"/><rect x="681.52" y="338.4" width="16.96" height="8" rx="3.8" fill="#000"/><rect x="702.42" y="338.9" width="17.96" height="6.8" rx="3.2" fill="#080808"/></g>
</g>
<rect x="598.3" y="332.6" width="123.1" height="18.9" fill="none" stroke="#111" stroke-width="1.15"/>
<text stroke="#000" stroke-width="0.25" x="725.0" y="251.4" font-size="13.3">PRDM16</text>
<text stroke="#000" stroke-width="0.25" x="725.0" y="275.8" font-size="13.3">PPARGC1<tspan font-family="Liberation Serif" font-size="14.5">α</tspan></text>
<text stroke="#000" stroke-width="0.25" x="725.0" y="299.1" font-size="13.3">PPAR<tspan font-family="Liberation Serif" font-size="14.5">α</tspan></text>
<text stroke="#000" stroke-width="0.25" x="725.0" y="323.3" font-size="13.3">KSRP</text>
<text stroke="#000" stroke-width="0.25" x="725.0" y="346.2" font-size="13.3">TUBULIN</text>
<text stroke="#000" stroke-width="0.25" x="609.7" y="227.9" font-size="13" font-style="italic">Ksrp<tspan font-size="10">+/+</tspan></text>
<text stroke="#000" stroke-width="0.25" x="675.4" y="227.9" font-size="13" font-style="italic">Ksrp<tspan font-size="10">-/-</tspan></text>
<line x1="600" y1="232.4" x2="658" y2="232.4" stroke-width="1.4"/>
<line x1="662.2" y1="232.4" x2="720.3" y2="232.4" stroke-width="1.4"/>
<rect x="597.3" y="421" width="9.2" height="8.8" fill="#000" stroke="none"/>
<rect x="598.1" y="437.8" width="7.7" height="7.5" fill="#fff" stroke-width="1.4"/>
<text stroke="#000" stroke-width="0.25" x="614.6" y="429.6" font-size="10.4" font-style="italic">Ksrp+/+</text>
<text stroke="#000" stroke-width="0.25" x="615.8" y="445.6" font-size="10.4" font-style="italic" letter-spacing="0.15">Ksrp-/-</text>
</g>
</svg>
</body></html>
